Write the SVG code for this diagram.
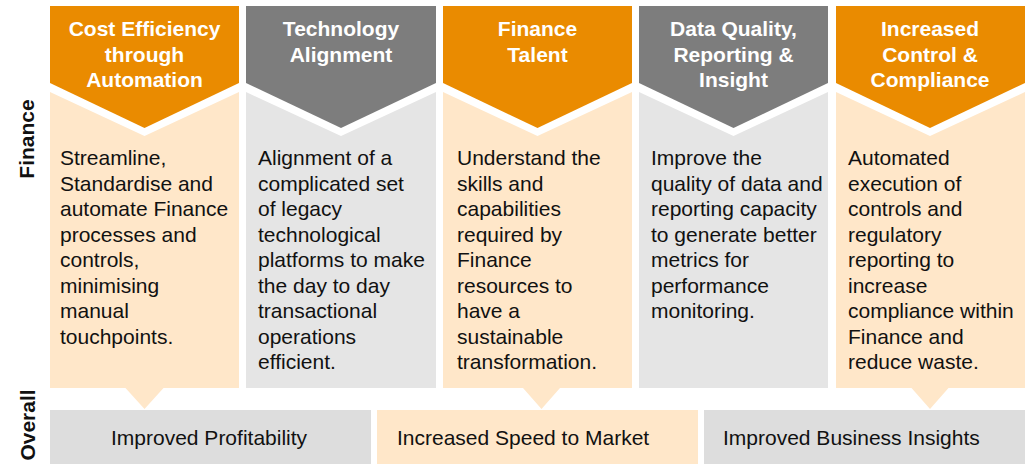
<svg xmlns="http://www.w3.org/2000/svg" width="1027" height="464" viewBox="0 0 1027 464">
  <style>
    .hd-o { fill: #EA8B00; }
    .hd-g { fill: #7D7D7D; }
    .bd-o { fill: #FFE7C9; }
    .bd-g { fill: #E5E5E5; }
    .ft-g { fill: #DDDDDD; }
    .ttl { font-family: "Liberation Sans", Arial, sans-serif; font-size: 21px; font-weight: bold; fill: #FFFFFF; text-anchor: middle; }
    .txt { font-family: "Liberation Sans", Arial, sans-serif; font-size: 21px; fill: #111111; }
    .side { font-family: "Liberation Sans", Arial, sans-serif; font-size: 21px; font-weight: bold; fill: #111111; text-anchor: middle; }
  </style>

  <!-- row labels -->
  <text class="side" transform="translate(34,139) rotate(-90)">Finance</text>
  <text class="side" transform="translate(35,425) rotate(-90)">Overall</text>

  <!-- column 1 -->
  <g id="cost-efficiency">
    <path class="hd-o" d="M50,6 H239 V83 L144.5,128 L50,83 Z"/>
    <path class="bd-o" d="M50,92 L144.5,136 L239,92 V388 H163.5 L144.5,409 L125.5,388 H50 Z"/>
    <text class="ttl" x="144.5" y="36">Cost Efficiency<tspan x="144.5" dy="25.5">through</tspan><tspan x="144.5" dy="25.5">Automation</tspan></text>
    <text class="txt" x="60" y="165">Streamline,<tspan x="60" dy="25.5">Standardise and</tspan><tspan x="60" dy="25.5">automate Finance</tspan><tspan x="60" dy="25.5">processes and</tspan><tspan x="60" dy="25.5">controls,</tspan><tspan x="60" dy="25.5">minimising</tspan><tspan x="60" dy="25.5">manual</tspan><tspan x="60" dy="25.5">touchpoints.</tspan></text>
  </g>

  <!-- column 2 -->
  <g id="technology-alignment">
    <path class="hd-g" d="M246,6 H436 V83 L341,128 L246,83 Z"/>
    <path class="bd-g" d="M246,92 L341,136 L436,92 V388 H246 Z"/>
    <text class="ttl" x="341" y="36">Technology<tspan x="341" dy="25.5">Alignment</tspan></text>
    <text class="txt" x="258" y="165">Alignment of a<tspan x="258" dy="25.5">complicated set</tspan><tspan x="258" dy="25.5">of legacy</tspan><tspan x="258" dy="25.5">technological</tspan><tspan x="258" dy="25.5">platforms to make</tspan><tspan x="258" dy="25.5">the day to day</tspan><tspan x="258" dy="25.5">transactional</tspan><tspan x="258" dy="25.5">operations</tspan><tspan x="258" dy="25.5">efficient.</tspan></text>
  </g>

  <!-- column 3 -->
  <g id="finance-talent">
    <path class="hd-o" d="M443,6 H632 V83 L537.5,128 L443,83 Z"/>
    <path class="bd-o" d="M443,92 L537.5,136 L632,92 V388 H560 L541.5,409 L523,388 H443 Z"/>
    <text class="ttl" x="537.5" y="36">Finance<tspan x="537.5" dy="25.5">Talent</tspan></text>
    <text class="txt" x="457" y="165">Understand the<tspan x="457" dy="25.5">skills and</tspan><tspan x="457" dy="25.5">capabilities</tspan><tspan x="457" dy="25.5">required by</tspan><tspan x="457" dy="25.5">Finance</tspan><tspan x="457" dy="25.5">resources to</tspan><tspan x="457" dy="25.5">have a</tspan><tspan x="457" dy="25.5">sustainable</tspan><tspan x="457" dy="25.5">transformation.</tspan></text>
  </g>

  <!-- column 4 -->
  <g id="data-quality">
    <path class="hd-g" d="M639,6 H828 V83 L733.5,128 L639,83 Z"/>
    <path class="bd-g" d="M639,92 L733.5,136 L828,92 V388 H639 Z"/>
    <text class="ttl" x="733.5" y="36">Data Quality,<tspan x="733.5" dy="25.5">Reporting &amp;</tspan><tspan x="733.5" dy="25.5">Insight</tspan></text>
    <text class="txt" x="651" y="165">Improve the<tspan x="651" dy="25.5">quality of data and</tspan><tspan x="651" dy="25.5">reporting capacity</tspan><tspan x="651" dy="25.5">to generate better</tspan><tspan x="651" dy="25.5">metrics for</tspan><tspan x="651" dy="25.5">performance</tspan><tspan x="651" dy="25.5">monitoring.</tspan></text>
  </g>

  <!-- column 5 -->
  <g id="control-compliance">
    <path class="hd-o" d="M836,6 H1025 V83 L930,128 L836,83 Z"/>
    <path class="bd-o" d="M836,92 L930,136 L1025,92 V388 H948.5 L930,409 L911.5,388 H836 Z"/>
    <text class="ttl" x="930" y="36">Increased<tspan x="930" dy="25.5">Control &amp;</tspan><tspan x="930" dy="25.5">Compliance</tspan></text>
    <text class="txt" x="848" y="165">Automated<tspan x="848" dy="25.5">execution of</tspan><tspan x="848" dy="25.5">controls and</tspan><tspan x="848" dy="25.5">regulatory</tspan><tspan x="848" dy="25.5">reporting to</tspan><tspan x="848" dy="25.5">increase</tspan><tspan x="848" dy="25.5">compliance within</tspan><tspan x="848" dy="25.5">Finance and</tspan><tspan x="848" dy="25.5">reduce waste.</tspan></text>
  </g>

  <!-- overall outcomes -->
  <g id="improved-profitability">
    <rect class="ft-g" x="50" y="410" width="321" height="54"/>
    <text class="txt" x="111" y="445">Improved Profitability</text>
  </g>
  <g id="speed-to-market">
    <rect class="bd-o" x="377" y="410" width="321" height="54"/>
    <text class="txt" x="397" y="445">Increased Speed to Market</text>
  </g>
  <g id="business-insights">
    <rect class="ft-g" x="704" y="410" width="321" height="54"/>
    <text class="txt" x="723" y="445">Improved Business Insights</text>
  </g>

  <g id="connectors"></g>
</svg>
